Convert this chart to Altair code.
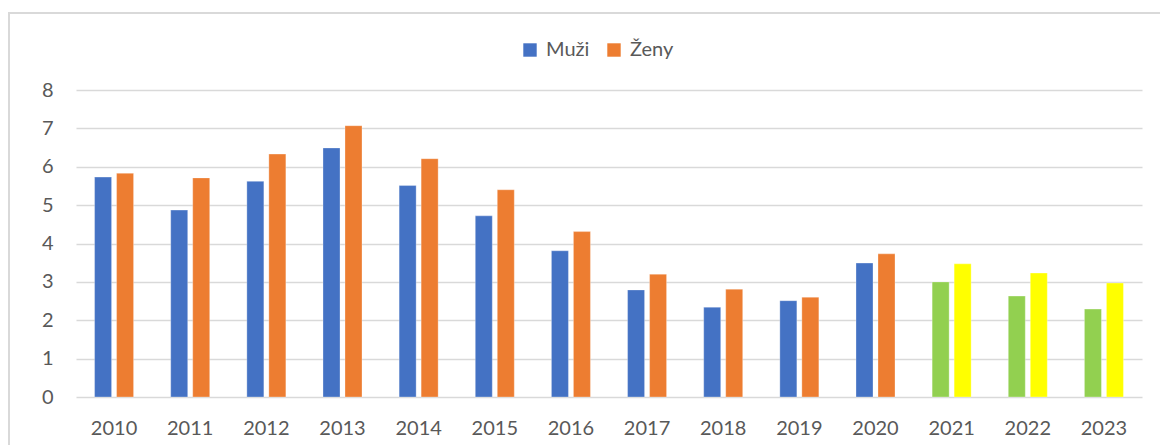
import altair as alt
import pandas as pd

roky = ["2010", "2011", "2012", "2013", "2014", "2015", "2016",
        "2017", "2018", "2019", "2020", "2021", "2022", "2023"]
muzi = [5.73, 4.87, 5.62, 6.49, 5.51, 4.72, 3.81, 2.79, 2.34, 2.51, 3.49, 3.00, 2.63, 2.29]
zeny = [5.83, 5.71, 6.33, 7.07, 6.21, 5.40, 4.31, 3.20, 2.81, 2.60, 3.73, 3.47, 3.23, 2.97]
serie = ["Muži", "Ženy"]
skupiny = ["Muži", "Ženy", "Muži 2021–2023", "Ženy 2021–2023"]
barvy = ["#4472C4", "#ED7D31", "#92D050", "#FFFF00"]
y_ticks = [0, 1, 2, 3, 4, 5, 6, 7, 8]

rows = []
for i, r in enumerate(roky):
    for s, vals in zip(serie, [muzi, zeny]):
        g = s if int(r) < 2021 else s + " 2021–2023"
        rows.append({"rok": r, "pohlavi": s, "hodnota": vals[i], "skupina": g})
df = pd.DataFrame(rows)

FONT = "Lato"
GRAY = "#595959"

bars = alt.Chart(df).mark_bar(stroke="white", strokeWidth=0.6, strokeOpacity=0.5).encode(
    x=alt.X("rok:N", sort=roky,
            scale=alt.Scale(paddingInner=0, paddingOuter=0),
            axis=alt.Axis(title=None, labelAngle=0, domain=False, ticks=False, grid=False,
                          labelFont=FONT, labelFontSize=20, labelColor=GRAY, labelPadding=21)),
    xOffset=alt.XOffset("pohlavi:N", sort=serie,
                        scale=alt.Scale(paddingInner=0.227, paddingOuter=0.844)),
    y=alt.Y("hodnota:Q",
            scale=alt.Scale(domain=[0, 8], nice=False),
            axis=alt.Axis(title=None, values=y_ticks, domain=False, ticks=False,
                          gridColor="#D9D9D9", gridWidth=1.5,
                          labelFont=FONT, labelFontSize=20, labelColor=GRAY, labelPadding=23)),
    color=alt.Color("skupina:N",
                    scale=alt.Scale(domain=skupiny, range=barvy),
                    legend=alt.Legend(values=serie, title=None, orient="none",
                                      legendX=444, legendY=-50, direction="horizontal",
                                      symbolType="square", symbolSize=180,
                                      symbolStrokeWidth=0, labelOffset=6,
                                      columnPadding=14,
                                      labelFont=FONT, labelFontSize=20, labelColor=GRAY)),
)

border = alt.Chart(pd.DataFrame({"a": [0]})).mark_rect(
    fill=None, stroke="#D9D9D9", strokeWidth=2
).encode(
    x=alt.value(-67), x2=alt.value(1200), y=alt.value(-77), y2=alt.value(420)
)

chart = alt.layer(border, bars).properties(
    width=1066, height=307,
    autosize=alt.AutoSizeParams(type="none"),
    padding={"left": 68, "top": 82, "right": 18, "bottom": 48},
    background="white",
).configure_view(strokeWidth=0, stroke="transparent")

chart.save("out.html", embed_options={"renderer": "svg", "actions": False})
